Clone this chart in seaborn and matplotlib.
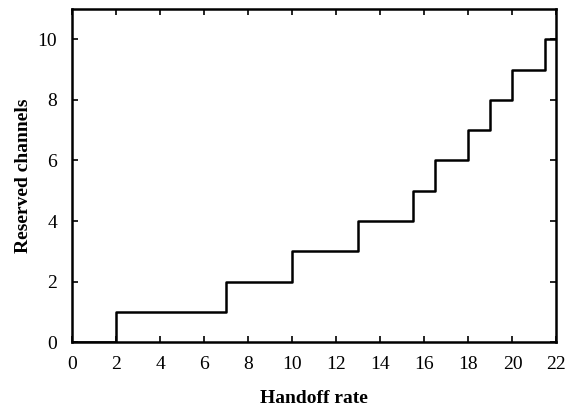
import numpy as np
import seaborn as sns
import matplotlib.pyplot as plt

# step edges (handoff rate) and the reserved channel level after each edge
handoff_rate = [0, 2, 7, 10, 13, 15.5, 16.5, 18, 19, 20, 21.5, 22]
reserved_channels = [0, 1, 2, 3, 4, 5, 6, 7, 8, 9, 10, 10]
x_ticks = [0, 2, 4, 6, 8, 10, 12, 14, 16, 18, 20, 22]
y_ticks = [0, 2, 4, 6, 8, 10]


def plot():
    sns.set_theme(style="ticks")
    plt.rcParams['font.family'] = ['Liberation Serif', 'DejaVu Serif']
    plt.rcParams['text.color'] = 'black'
    plt.rcParams['axes.labelcolor'] = 'black'

    fig = plt.figure(figsize=(5.69, 4.07), dpi=100)
    ax = fig.add_axes([0.127, 0.159, 0.851, 0.819])

    sns.lineplot(ax=ax, x=handoff_rate, y=reserved_channels,
                 drawstyle="steps-post", color="black", linewidth=1.8,
                 estimator=None, sort=False)

    ax.set_xlim(0, 22)
    ax.set_ylim(0, 11)
    ax.set_xticks(x_ticks)
    ax.set_yticks(y_ticks)
    ax.tick_params(direction="in", top=True, right=True, length=4,
                   width=1.2, labelsize=14, colors="black")
    ax.tick_params(axis="x", pad=10)
    ax.tick_params(axis="y", pad=11)
    for spine in ax.spines.values():
        spine.set_visible(True)
        spine.set_linewidth(1.8)
        spine.set_color("black")

    ax.set_xlabel("Handoff rate", fontsize=14, fontweight="bold", labelpad=12)
    ax.set_ylabel("Reserved channels", fontsize=14, fontweight="bold", labelpad=4)

    fig.savefig("out.png", dpi=100)


if __name__ == '__main__':
    plot()
